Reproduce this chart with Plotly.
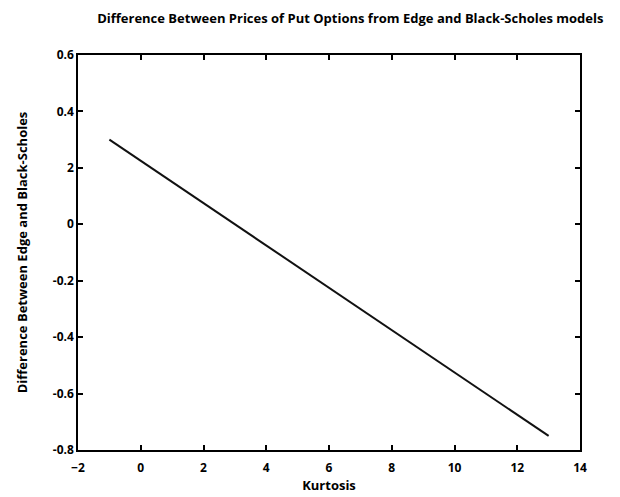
import plotly.graph_objects as go

# Edge-model vs Black-Scholes put price difference across kurtosis values
kurtosis = [-1, 13]
price_diff = [0.30, -0.75]

x_ticks = [-2, 0, 2, 4, 6, 8, 10, 12, 14]
y_tick_vals = [0.6, 0.4, 0.2, 0, -0.2, -0.4, -0.6, -0.8]
y_tick_text = ["0.6", "0.4", "2", "0", "-0.2", "-0.4", "-0.6", "-0.8"]

font_family = "Open Sans"
label_font = dict(family=font_family, size=13, color="black", weight="bold")

fig = go.Figure()
fig.add_trace(go.Scatter(
    x=kurtosis, y=price_diff, mode="lines",
    line=dict(color="#111111", width=2),
    showlegend=False,
))

axis_common = dict(
    showline=True, linecolor="black", linewidth=1.5, mirror="ticks",
    ticks="inside", ticklen=5, tickcolor="black", tickwidth=1.5,
    showgrid=False, zeroline=False, automargin=False,
    tickfont=dict(family=font_family, size=12, color="black", weight="bold"),
)

fig.update_layout(
    width=620, height=497,
    margin=dict(l=78, r=40, t=55, b=47),
    plot_bgcolor="white", paper_bgcolor="white",
    title=dict(
        text="Difference Between Prices of Put Options from Edge and Black-Scholes models",
        x=0.565, xanchor="center", y=0.963, yanchor="middle",
        font=label_font,
    ),
    xaxis=dict(
        range=[-2, 14], tickvals=x_ticks, ticklabelstandoff=6,
        title=dict(text="Kurtosis", standoff=6, font=label_font),
        **axis_common,
    ),
    yaxis=dict(
        range=[-0.8, 0.6], tickvals=y_tick_vals, ticktext=y_tick_text,
        title=dict(text="Difference Between Edge and Black-Scholes", standoff=22,
                   font=label_font),
        **axis_common,
    ),
)

fig.write_html("out.html")
